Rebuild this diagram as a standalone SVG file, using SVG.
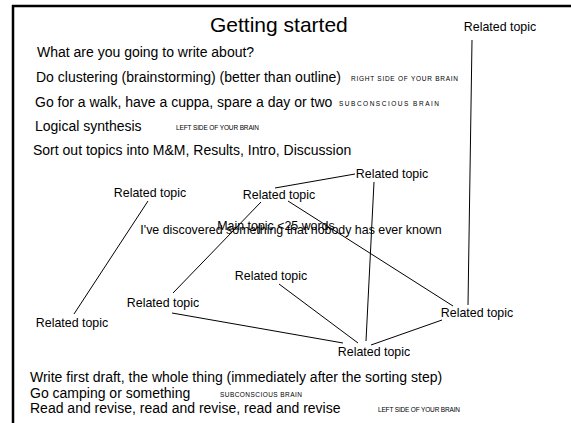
<svg xmlns="http://www.w3.org/2000/svg" width="571" height="423" viewBox="0 0 571 423">
<style>
text{font-family:"Liberation Sans",Arial,sans-serif;fill:#000}
.t{font-size:21px}
.l{font-size:14px}
.n{font-size:12.4px;text-anchor:middle}
.s{font-size:6.5px}
.c line{stroke:#000;stroke-width:1}
</style>
<rect width="571" height="423" fill="#fff"/>
<g id="frame">
<line x1="12" y1="6" x2="571" y2="6" stroke="#000" stroke-width="2.5"/>
<line x1="13" y1="5" x2="13" y2="423" stroke="#000" stroke-width="2.5"/>
</g>
<g id="title"><text class="t" x="210" y="32">Getting started</text></g>
<g id="steps-top">
<text class="l" x="37" y="57">What are you going to write about?</text>
<text class="l" x="36" y="82">Do clustering (brainstorming) (better than outline)</text>
<text class="s" x="351" y="81" textLength="107" lengthAdjust="spacing">RIGHT SIDE OF YOUR BRAIN</text>
<text class="l" x="35" y="107">Go for a walk, have a cuppa, spare a day or two</text>
<text class="s" x="339" y="106" textLength="100" lengthAdjust="spacing">SUBCONSCIOUS  BRAIN</text>
<text class="l" x="35" y="131">Logical synthesis</text>
<text class="s" x="176" y="130" textLength="83" lengthAdjust="spacing">LEFT SIDE OF YOUR  BRAIN</text>
<text class="l" x="33" y="155">Sort out topics into M&amp;M, Results, Intro, Discussion</text>
</g>
<g class="c" id="connectors">
<line x1="472" y1="40" x2="468" y2="305"/>
<line x1="355" y1="174" x2="275" y2="188"/>
<line x1="374" y1="182" x2="366" y2="341"/>
<line x1="148" y1="201" x2="74" y2="314"/>
<line x1="261" y1="202" x2="173" y2="293"/>
<line x1="288" y1="201" x2="453" y2="306"/>
<line x1="279" y1="284" x2="358" y2="343"/>
<line x1="172" y1="313" x2="343" y2="343"/>
<line x1="442" y1="320" x2="371" y2="345"/>
</g>
<g id="topic-a"><text class="n" x="500" y="31">Related topic</text></g>
<g id="topic-b"><text class="n" x="392" y="178">Related topic</text></g>
<g id="topic-c"><text class="n" x="150" y="197">Related topic</text></g>
<g id="topic-d"><text class="n" x="279" y="199">Related topic</text></g>
<g id="main"><text class="n" x="276" y="230">Main topic &lt;25 words</text>
<text class="n" x="291" y="234">I've discovered something that nobody has ever known</text></g>
<g id="topic-e"><text class="n" x="271" y="280">Related topic</text></g>
<g id="topic-f"><text class="n" x="163" y="307">Related topic</text></g>
<g id="topic-g"><text class="n" x="72" y="327">Related topic</text></g>
<g id="topic-h"><text class="n" x="477" y="317">Related topic</text></g>
<g id="topic-i"><text class="n" x="374" y="356">Related topic</text></g>
<g id="steps-bottom">
<text class="l" x="30" y="382">Write first draft, the whole thing (immediately after the sorting step)</text>
<text class="l" x="30" y="397.5">Go camping or something</text>
<text class="s" x="220" y="396.5" textLength="82" lengthAdjust="spacing">SUBCONSCIOUS  BRAIN</text>
<text class="l" x="30" y="413">Read and revise, read and revise, read and revise</text>
<text class="s" x="378" y="412" textLength="82" lengthAdjust="spacing">LEFT SIDE OF YOUR  BRAIN</text>
</g>
</svg>
